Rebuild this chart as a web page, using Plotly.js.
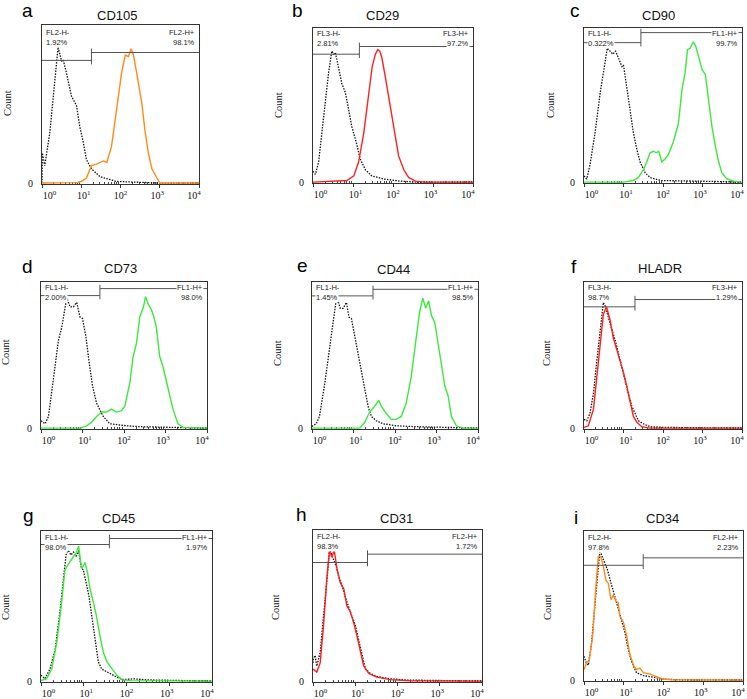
<!DOCTYPE html>
<html>
<head>
<meta charset="utf-8">
<script src="https://cdn.plot.ly/plotly-3.0.1.min.js"></script>
<style>
body{margin:0;background:#fff}
#chart{width:747px;height:699px}
</style>
</head>
<body>
<div id="chart"></div>
<script>
// fluorescence in decades (log10), count as % of the panel height

// a  CD105
var cd105_iso_x = [0, 0.01, 0.07, 0.2, 0.32, 0.41, 0.5, 0.54, 0.62, 0.75, 0.88, 0.96, 1.05, 1.13, 1.26, 1.48, 1.9, 2.5, 3.0, 4.0]
var cd105_iso_y = [0, 19, 11, 32, 63, 86, 77, 78, 70, 55, 49, 36, 26, 15, 9, 4, 1, 0.4, 0, 0]
var cd105_pos_x = [0, 0.6, 0.88, 1.0, 1.13, 1.26, 1.39, 1.56, 1.65, 1.77, 1.9, 2.03, 2.12, 2.2, 2.27, 2.33, 2.41, 2.54, 2.63, 2.71, 2.8, 2.88, 3.0, 4.0]
var cd105_pos_y = [0, 0, 0.3, 1, 3, 11, 12, 14, 13, 23, 47, 70, 81, 80, 85, 81, 70, 51, 32, 19, 9, 5, 0, 0]

// b  CD29
var cd29_iso_x = [0, 0.06, 0.14, 0.27, 0.39, 0.47, 0.52, 0.56, 0.64, 0.72, 0.81, 0.89, 0.97, 1.08, 1.18, 1.31, 1.47, 1.77, 2.18, 2.6, 4]
var cd29_iso_y = [7, 5, 13, 43, 71, 85, 83, 84, 73, 64, 58, 47, 36, 26, 15, 8, 4, 2, 0.6, 0, 0]
var cd29_pos_x = [0, 0.68, 0.85, 1.02, 1.14, 1.27, 1.39, 1.48, 1.56, 1.62, 1.67, 1.72, 1.81, 1.89, 1.98, 2.06, 2.14, 2.27, 2.39, 2.56, 2.8, 4]
var cd29_pos_y = [0, 0.5, 1, 4, 13, 32, 58, 75, 83, 86, 85, 81, 68, 56, 41, 28, 17, 8, 3, 0.6, 0, 0]

// c  CD90
var cd90_iso_x = [0, 0.07, 0.15, 0.28, 0.41, 0.51, 0.59, 0.66, 0.73, 0.8, 0.87, 0.96, 1.0, 1.08, 1.17, 1.25, 1.34, 1.42, 1.55, 1.67, 1.93, 2.18, 2.9, 3.7, 4]
var cd90_iso_y = [4, 2, 11, 32, 58, 75, 87, 85, 83, 85, 80, 75, 76, 62, 45, 32, 21, 13, 6, 3, 1, 1, 0.6, 0.2, 0]
var cd90_pos_x = [0, 1.0, 1.25, 1.38, 1.5, 1.59, 1.67, 1.76, 1.83, 1.89, 1.97, 2.05, 2.14, 2.26, 2.39, 2.48, 2.56, 2.62, 2.69, 2.77, 2.83, 2.9, 2.99, 3.07, 3.15, 3.24, 3.32, 3.41, 3.49, 3.62, 3.79, 4]
var cd90_pos_y = [0, 0, 1, 3, 8, 13, 19, 20, 19, 20, 13, 15, 18, 26, 38, 60, 71, 86, 87, 91, 88, 82, 73, 70, 53, 36, 24, 13, 6, 2, 0.6, 0]

// d  CD73
var cd73_iso_x = [0, 0.1, 0.18, 0.3, 0.42, 0.5, 0.58, 0.62, 0.7, 0.78, 0.86, 0.94, 1.0, 1.08, 1.16, 1.24, 1.34, 1.5, 1.66, 2.06, 2.38, 3.0, 4]
var cd73_iso_y = [5, 3, 8, 33, 60, 69, 83, 89, 83, 83, 86, 76, 75, 63, 45, 29, 17, 8, 3, 1.6, 1, 0.5, 0]
var cd73_pos_x = [0, 0.94, 1.1, 1.22, 1.34, 1.46, 1.58, 1.7, 1.82, 1.94, 2.02, 2.14, 2.22, 2.3, 2.38, 2.47, 2.52, 2.58, 2.66, 2.72, 2.78, 2.86, 2.94, 3.02, 3.1, 3.18, 3.3, 3.42, 4]
var cd73_pos_y = [0, 0, 1.6, 4, 8, 11, 11, 13, 11, 12, 15, 31, 49, 58, 76, 83, 90, 85, 81, 76, 69, 49, 42, 33, 22, 13, 3, 0.5, 0]

// e  CD44
var cd44_iso_x = [0, 0.02, 0.1, 0.18, 0.31, 0.43, 0.51, 0.57, 0.63, 0.68, 0.75, 0.83, 0.89, 0.95, 1.03, 1.11, 1.19, 1.27, 1.35, 1.43, 1.55, 1.71, 2.03, 2.5, 4]
var cd44_iso_y = [1, 1.6, 3, 8, 31, 56, 69, 85, 87, 82, 82, 86, 76, 75, 63, 51, 40, 26, 15, 8, 5, 3, 1.6, 1, 0]
var cd44_pos_x = [0, 1.15, 1.27, 1.39, 1.51, 1.61, 1.67, 1.79, 1.91, 2.03, 2.15, 2.27, 2.39, 2.51, 2.59, 2.67, 2.74, 2.81, 2.88, 2.96, 3.04, 3.12, 3.2, 3.28, 3.36, 3.48, 3.64, 4]
var cd44_pos_y = [0, 0, 4, 11, 15, 19, 15, 10, 6, 6, 8, 17, 35, 60, 79, 89, 82, 87, 77, 72, 58, 45, 29, 22, 8, 1.6, 0, 0]

// f  HLADR
var hladr_iso_x = [0, 0.07, 0.15, 0.24, 0.32, 0.41, 0.49, 0.53, 0.62, 0.7, 0.79, 0.87, 0.96, 1.04, 1.12, 1.21, 1.29, 1.38, 1.5, 1.67, 2.0, 4]
var hladr_iso_y = [6, 5, 10, 24, 45, 67, 86, 84, 75, 68, 60, 51, 42, 33, 24, 15, 10, 5, 3, 1, 0.5, 0]
var hladr_pos_x = [0, 0.11, 0.24, 0.32, 0.41, 0.49, 0.57, 0.66, 0.74, 0.83, 0.91, 1.0, 1.08, 1.17, 1.25, 1.34, 1.46, 1.67, 4]
var hladr_pos_y = [0.5, 1.6, 13, 35, 60, 78, 83, 74, 62, 54, 46, 38, 29, 17, 8, 4, 1, 0, 0]

// g  CD45
var cd45_iso_x = [0, 0.09, 0.21, 0.33, 0.45, 0.52, 0.59, 0.64, 0.7, 0.76, 0.82, 0.88, 0.94, 0.99, 1.05, 1.12, 1.19, 1.27, 1.34, 1.42, 1.5, 1.62, 1.77, 1.93, 2.16, 2.5, 4]
var cd45_iso_y = [4, 1.5, 8, 21, 48, 67, 85, 87, 84, 86, 83, 87, 76, 74, 65, 57, 43, 28, 13, 8, 7, 5, 2.6, 1, 1.5, 0.8, 0]
var cd45_pos_x = [0, 0.13, 0.25, 0.37, 0.48, 0.56, 0.62, 0.7, 0.76, 0.82, 0.88, 0.95, 1.03, 1.09, 1.15, 1.23, 1.3, 1.38, 1.46, 1.54, 1.66, 1.77, 1.89, 2.1, 4]
var cd45_pos_y = [0.4, 1.5, 8, 26, 52, 74, 77, 81, 83, 85, 90, 75, 79, 72, 61, 52, 43, 30, 19, 13, 8, 4, 1, 0.3, 0]

// h  CD31
var cd31_iso_x = [0, 0.01, 0.05, 0.09, 0.17, 0.25, 0.33, 0.39, 0.43, 0.49, 0.55, 0.61, 0.69, 0.77, 0.84, 0.92, 1.0, 1.08, 1.16, 1.24, 1.36, 1.51, 1.83, 2.2, 4]
var cd31_iso_y = [12, 15, 17, 10, 19, 41, 67, 87, 85, 80, 76, 69, 63, 55, 50, 43, 37, 28, 17, 8, 5, 3, 1.5, 0.7, 0]
var cd31_pos_x = [0, 0.09, 0.17, 0.25, 0.33, 0.39, 0.45, 0.5, 0.57, 0.65, 0.73, 0.8, 0.88, 0.96, 1.04, 1.12, 1.2, 1.32, 1.51, 1.83, 2.3, 4]
var cd31_pos_y = [8, 6, 12, 37, 69, 86, 82, 87, 74, 65, 61, 50, 46, 39, 30, 19, 10, 5, 2.6, 1, 0.2, 0]

// i  CD34
var cd34_iso_x = [0, 0.05, 0.11, 0.19, 0.28, 0.35, 0.4, 0.47, 0.53, 0.59, 0.68, 0.78, 0.86, 0.95, 1.03, 1.11, 1.2, 1.32, 1.49, 1.74, 1.99, 2.3, 4]
var cd34_iso_y = [16, 12, 10, 25, 52, 76, 87, 82, 78, 74, 65, 56, 49, 40, 32, 21, 12, 5, 3, 2, 0.7, 0.3, 0]
var cd34_pos_x = [0, 0.07, 0.13, 0.22, 0.3, 0.36, 0.42, 0.49, 0.55, 0.61, 0.68, 0.74, 0.8, 0.86, 0.9, 0.99, 1.07, 1.15, 1.24, 1.32, 1.41, 1.49, 1.66, 1.82, 1.99, 2.2, 4]
var cd34_pos_y = [7, 12, 13, 30, 63, 83, 83, 76, 67, 65, 54, 57, 53, 52, 43, 39, 30, 18, 10, 7, 8, 5, 4, 2.4, 0.7, 0.2, 0]

// gates: threshold (decades), height of "-" bar, height of "+" bar (%)
var gate_cut = [1.26, 1.16, 1.44, 1.42, 1.47, 1.29, 1.6, 1.29, 1.49]
var gate_neg_h = [77.6, 83, 90.5, 90.7, 90.5, 83, 91, 78.5, 77]
var gate_pos_h = [82.6, 88, 97, 95.5, 95, 88, 95, 84, 82]

var markers = ['CD105', 'CD29', 'CD90', 'CD73', 'CD44', 'HLADR', 'CD45', 'CD31', 'CD34']
var letters = ['a', 'b', 'c', 'd', 'e', 'f', 'g', 'h', 'i']
var neg_names = ['FL2-H-', 'FL3-H-', 'FL1-H-', 'FL1-H-', 'FL1-H-', 'FL3-H-', 'FL1-H-', 'FL2-H-', 'FL2-H-']
var neg_pct = ['1.92%', '2.81%', '0.322%', '2.00%', '1.45%', '98.7%', '98.0%', '98.3%', '97.8%']
var pos_names = ['FL2-H+', 'FL3-H+', 'FL1-H+', 'FL1-H+', 'FL1-H+', 'FL3-H+', 'FL1-H+', 'FL2-H+', 'FL2-H+']
var pos_pct = ['98.1%', '97.2%', '99.7%', '98.0%', '98.5%', '1.29%', '1.97%', '1.72%', '2.23%']
// decade labels sit a little off their ticks in the original, padded here
var tick_text = ['&nbsp;&nbsp;&nbsp;&nbsp;&nbsp;&nbsp;10<sup>0</sup>', '&nbsp;&nbsp;10<sup>1</sup>', '10<sup>2</sup>',
                 '10<sup>3</sup>&nbsp;&nbsp;', '10<sup>4</sup>&nbsp;&nbsp;&nbsp;&nbsp;']

var iso_x = [cd105_iso_x, cd29_iso_x, cd90_iso_x, cd73_iso_x, cd44_iso_x, hladr_iso_x, cd45_iso_x, cd31_iso_x, cd34_iso_x]
var iso_y = [cd105_iso_y, cd29_iso_y, cd90_iso_y, cd73_iso_y, cd44_iso_y, hladr_iso_y, cd45_iso_y, cd31_iso_y, cd34_iso_y]
var pos_x = [cd105_pos_x, cd29_pos_x, cd90_pos_x, cd73_pos_x, cd44_pos_x, hladr_pos_x, cd45_pos_x, cd31_pos_x, cd34_pos_x]
var pos_y = [cd105_pos_y, cd29_pos_y, cd90_pos_y, cd73_pos_y, cd44_pos_y, hladr_pos_y, cd45_pos_y, cd31_pos_y, cd34_pos_y]

var ORANGE = '#ff8a1c', RED = '#ff1f1f', GREEN = '#3ce83c'
var colors = [ORANGE, RED, GREEN, GREEN, GREEN, RED, GREEN, RED, ORANGE]

// layout in pixels: box [left, right, top, bottom]
var W = 747, H = 699
var boxes = [[42,199,25,184],[313,473,28,183],[584,742,28,183],
             [41,207,282,429],[312,478,282,429],[584,742,282,429],
             [41,212,531,682],[313,482,530,682],[584,743,531,681]]
var titlePos = [[117,16],[382,16],[658,16],[120,268],[393,269],[660,268],[118,518],[397,518],[662,518]]
var letterPos = [[27,11],[297,11],[575,11],[27,266],[302,265],[574,266],[29,515],[301,514],[576,517]]
var countPos = [[7,103],[278,105],[550,105],[5,352],[278,353],[547,353],[5,607],[275,607],[547,607]]
var labelOff = [[7.5,17.5],[6,16],[6,16],[6,16],[6,16],[6,16],[6,16],[6,16],[6,16]]

function lin(e){ return Math.pow(10, e) }

var minorVals = []
for (var d = 0; d < 4; d++){
    for (var k = 2; k < 10; k++) minorVals.push(k * Math.pow(10, d))
}

var data = [], shapes = [], annotations = []
var layout = {
    width: W, height: H,
    margin: {l:0, r:0, t:0, b:0},
    showlegend: false,
    paper_bgcolor: 'white', plot_bgcolor: 'white'
}

for (let i = 0; i < 9; i++){
    let n = i === 0 ? '' : String(i + 1)
    let xa = 'x' + n, ya = 'y' + n
    let b = boxes[i]

    layout['xaxis' + n] = {
        domain: [b[0] / W, b[1] / W], anchor: ya,
        type: 'log', range: [0, 4], fixedrange: true,
        tickmode: 'array', tickvals: [1, 10, 100, 1000, 10000], ticktext: tick_text,
        ticks: 'outside', ticklen: 3, tickcolor: '#333',
        ticklabelstandoff: -1, ticklabeloverflow: 'allow',
        minor: {tickmode: 'array', tickvals: minorVals, ticks: 'inside', ticklen: 2.5, tickcolor: '#444', showgrid: false},
        showline: true, mirror: true, linecolor: '#333', linewidth: 1,
        showgrid: false, zeroline: false, layer: 'below traces',
        tickfont: {family: 'Liberation Serif', size: 10, color: '#111'}
    }
    layout['yaxis' + n] = {
        domain: [1 - b[3] / H, 1 - b[2] / H], anchor: xa,
        range: [-0.6, 100], fixedrange: true,
        tickmode: 'array', tickvals: [0], ticktext: ['0'], ticks: '',
        ticklabelstandoff: 6,
        showline: true, mirror: true, linecolor: '#333', linewidth: 1,
        showgrid: false, zeroline: false, layer: 'below traces',
        tickfont: {family: 'Liberation Serif', size: 10, color: '#111'}
    }

    data.push({
        x: iso_x[i].map(lin), y: iso_y[i], xaxis: xa, yaxis: ya,
        mode: 'lines', line: {color: '#111', dash: '1.5px,1.3px', width: 1.3}, hoverinfo: 'skip'
    })
    data.push({
        x: pos_x[i].map(lin), y: pos_y[i], xaxis: xa, yaxis: ya,
        mode: 'lines', line: {color: colors[i], width: 1.4}, hoverinfo: 'skip'
    })

    // gate bars
    let g = lin(gate_cut[i]), hn = gate_neg_h[i], hp = gate_pos_h[i]
    let gl = {color: '#555', width: 1}
    shapes.push({type: 'line', xref: xa, yref: ya, x0: 1, x1: g, y0: hn, y1: hn, line: gl})
    shapes.push({type: 'line', xref: xa, yref: ya, x0: g, x1: 10000, y0: hp, y1: hp, line: gl})
    shapes.push({type: 'line', xref: xa, yref: ya, x0: g, x1: g, y0: hn - 2.5, y1: hp + 2.5, line: gl})

    let lf = {family: 'Liberation Sans', size: 7.5, color: '#222'}
    let off = labelOff[i]
    let xd = xa + ' domain', yd = ya + ' domain'
    annotations.push({xref: xd, yref: yd, x: 0, y: 1, xanchor: 'left', yanchor: 'middle', xshift: 3, yshift: -off[0],
        text: neg_names[i], showarrow: false, font: lf, bgcolor: 'white', borderpad: 0})
    annotations.push({xref: xd, yref: yd, x: 0, y: 1, xanchor: 'left', yanchor: 'middle', xshift: 3, yshift: -off[1],
        text: neg_pct[i], showarrow: false, font: lf, bgcolor: 'white', borderpad: 0})
    annotations.push({xref: xd, yref: yd, x: 1, y: 1, xanchor: 'right', yanchor: 'middle', xshift: -3, yshift: -off[0],
        text: pos_names[i], showarrow: false, font: lf, bgcolor: 'white', borderpad: 0})
    annotations.push({xref: xd, yref: yd, x: 1, y: 1, xanchor: 'right', yanchor: 'middle', xshift: -3, yshift: -off[1],
        text: pos_pct[i], showarrow: false, font: lf, bgcolor: 'white', borderpad: 0})

    // title, letter, y label
    annotations.push({xref: 'paper', yref: 'paper', x: titlePos[i][0] / W, y: 1 - titlePos[i][1] / H,
        xanchor: 'center', yanchor: 'middle', text: markers[i], showarrow: false,
        font: {family: 'Liberation Sans', size: 13, color: '#111'}})
    annotations.push({xref: 'paper', yref: 'paper', x: letterPos[i][0] / W, y: 1 - letterPos[i][1] / H,
        xanchor: 'center', yanchor: 'middle', text: letters[i], showarrow: false,
        font: {family: 'Liberation Sans', size: 19, color: '#000'}})
    annotations.push({xref: 'paper', yref: 'paper', x: countPos[i][0] / W, y: 1 - countPos[i][1] / H,
        xanchor: 'center', yanchor: 'middle', text: 'Count', textangle: -90, showarrow: false,
        font: {family: 'Liberation Serif', size: 10.5, color: '#111'}})
}

layout.shapes = shapes
layout.annotations = annotations

window.onload = function(){
    Plotly.newPlot('chart', data, layout, {staticPlot: true, displayModeBar: false})
}
</script>
</body>
</html>
